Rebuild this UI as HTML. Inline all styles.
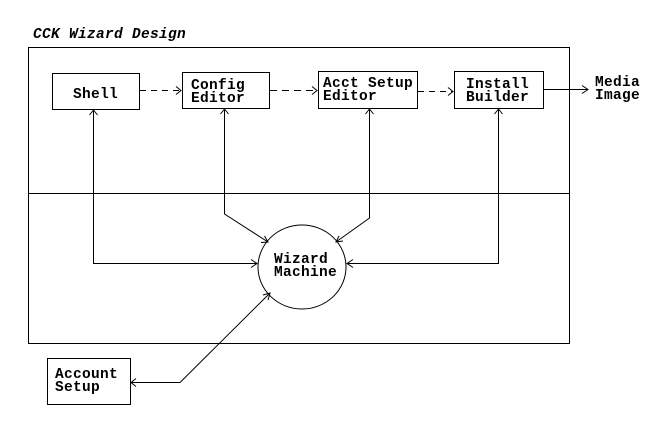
<!DOCTYPE html>
<html><head><meta charset="utf-8"><style>
html,body{margin:0;padding:0;background:#fff;}
svg{display:block;}
text{font-family:"Liberation Mono",monospace;font-weight:bold;font-size:14.5px;fill:#000;letter-spacing:0.3px;}
</style></head><body>
<svg width="654" height="430" viewBox="0 0 654 430" xmlns="http://www.w3.org/2000/svg">
<rect width="654" height="430" fill="#fff"/>
<g fill="none" stroke="#000" stroke-width="1" shape-rendering="crispEdges">
<rect x="28.5" y="47.5" width="541" height="296"/>
<line x1="28" y1="193.5" x2="570" y2="193.5"/>
<rect x="52.5" y="73.5" width="87" height="36"/>
<rect x="182.5" y="72.5" width="87" height="36"/>
<rect x="318.5" y="71.5" width="99" height="37"/>
<rect x="454.5" y="71.5" width="89" height="37"/>
<rect x="47.5" y="358.5" width="83" height="46"/>
</g>
<g fill="none" stroke="#000" stroke-width="1">
<ellipse cx="302" cy="267" rx="44" ry="42"/>
<!-- dashed arrows -->
<line x1="140" y1="90.5" x2="181" y2="90.5" stroke-dasharray="6 5"/>
<polyline points="176,86.5 181,90.5 176,94.5"/>
<line x1="270" y1="90.5" x2="317" y2="90.5" stroke-dasharray="7 5"/>
<polyline points="312,86.5 317,90.5 312,94.5"/>
<line x1="418" y1="91.5" x2="453" y2="91.5" stroke-dasharray="6 5"/>
<polyline points="448,87.5 453,91.5 448,95.5"/>
<!-- media -->
<line x1="544" y1="89.5" x2="588" y2="89.5"/>
<polyline points="582,85.5 588,89.5 582,93.5"/>
<!-- shell -->
<polyline points="93.5,110 93.5,263.5 257,263.5"/>
<polyline points="89.5,115 93.5,110 97.5,115"/>
<polyline points="251,259.5 257,263.5 251,267.5"/>
<!-- config -->
<polyline points="224.5,109 224.5,214 268,242"/>
<polyline points="220.5,114 224.5,109 228.5,114"/>
<polyline points="261,242.5 268,242 264.5,236"/>
<!-- acct -->
<polyline points="369.5,109 369.5,218 336,242"/>
<polyline points="365.5,114 369.5,109 373.5,114"/>
<polyline points="339,236 336,242 343,241"/>
<!-- install -->
<polyline points="498.5,109 498.5,263.5 347,263.5"/>
<polyline points="494.5,114 498.5,109 502.5,114"/>
<polyline points="353,259.5 347,263.5 353,267.5"/>
<!-- account setup -->
<polyline points="131,382.5 180,382.5 270,293"/>
<polyline points="136,378.5 131,382.5 136,386.5"/>
<polyline points="263,295 270,293 268,300"/>
</g>
<text x="33" y="38" font-style="italic" style="font-style:italic">CCK Wizard Design</text>
<text x="73" y="98">Shell</text>
<text x="191" y="89">Config</text>
<text x="191" y="102">Editor</text>
<text x="323" y="87">Acct Setup</text>
<text x="323" y="100">Editor</text>
<text x="466" y="88">Install</text>
<text x="466" y="101">Builder</text>
<text x="595" y="86">Media</text>
<text x="595" y="99">Image</text>
<text x="274" y="263">Wizard</text>
<text x="274" y="276">Machine</text>
<text x="55" y="378">Account</text>
<text x="55" y="391">Setup</text>
</svg>
</body></html>
